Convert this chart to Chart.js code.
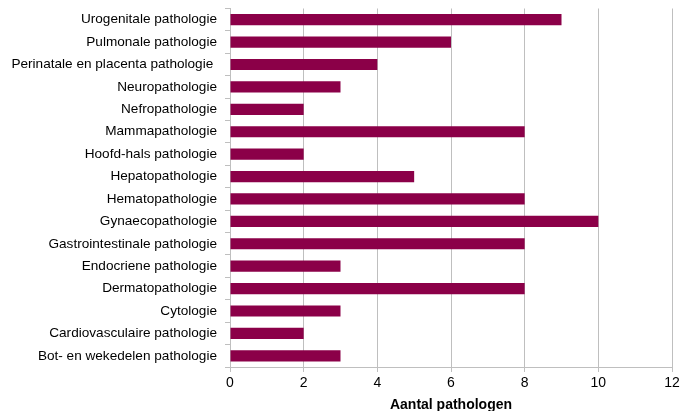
<!DOCTYPE html>
<html>
<head>
<meta charset="utf-8">
<script src="https://cdn.jsdelivr.net/npm/chart.js@4/dist/chart.umd.min.js"></script>
<style>
  html, body { margin: 0; padding: 0; background: #fff; }
  #wrap { width: 683px; height: 411px; position: relative; }
</style>
</head>
<body>
<div id="wrap"><canvas id="c" width="683" height="411"></canvas></div>
<script>
// Subspecialties and number of pathologists per subspecialty
const categories = [
  'Urogenitale pathologie',
  'Pulmonale pathologie',
  'Perinatale en placenta pathologie ',
  'Neuropathologie',
  'Nefropathologie',
  'Mammapathologie',
  'Hoofd-hals pathologie',
  'Hepatopathologie',
  'Hematopathologie',
  'Gynaecopathologie',
  'Gastrointestinale pathologie',
  'Endocriene pathologie',
  'Dermatopathologie',
  'Cytologie',
  'Cardiovasculaire pathologie',
  'Bot- en wekedelen pathologie'
];
const counts = [9, 6, 4, 3, 2, 8, 2, 5, 8, 10, 8, 3, 8, 3, 2, 3];
const xTicks = [0, 2, 4, 6, 8, 10, 12];
const xTitle = 'Aantal pathologen';

const axisGrey = '#BFBFBF';
const font = "'Liberation Sans', Arial, sans-serif";

new Chart(document.getElementById('c'), {
  type: 'bar',
  data: {
    labels: categories,
    datasets: [{
      data: counts,
      backgroundColor: '#8B0048',
      borderWidth: 0,
      barPercentage: 0.5,
      categoryPercentage: 1.0
    }]
  },
  options: {
    indexAxis: 'y',
    responsive: false,
    animation: false,
    layout: { padding: { top: 8.5, right: 11, bottom: 0, left: 0 } },
    plugins: { legend: { display: false }, tooltip: { enabled: false } },
    scales: {
      x: {
        min: xTicks[0],
        max: xTicks[xTicks.length - 1],
        afterBuildTicks: (s) => { s.ticks = xTicks.map(v => ({ value: v })); },
        grid: { color: axisGrey, lineWidth: 1, tickLength: 5, drawTicks: true },
        border: { color: axisGrey, width: 1 },
        ticks: { color: '#000', font: { family: font, size: 14 }, padding: 3, maxRotation: 0 },
        title: {
          display: true, text: xTitle, color: '#000',
          font: { family: font, size: 14, weight: 'bold' }, padding: { top: 6, bottom: -3 }
        },
        afterFit: (s) => { s.height = 44; }
      },
      y: {
        grid: { drawOnChartArea: false, drawTicks: true, tickLength: 5, color: axisGrey, offset: true },
        border: { color: axisGrey, width: 1 },
        ticks: { color: '#000', font: { family: font, size: 13.6 }, padding: 8, autoSkip: false },
        afterFit: (s) => { s.width = 230; s.paddingTop = 0; s.paddingBottom = 0; }
      }
    }
  }
});
</script>
</body>
</html>
